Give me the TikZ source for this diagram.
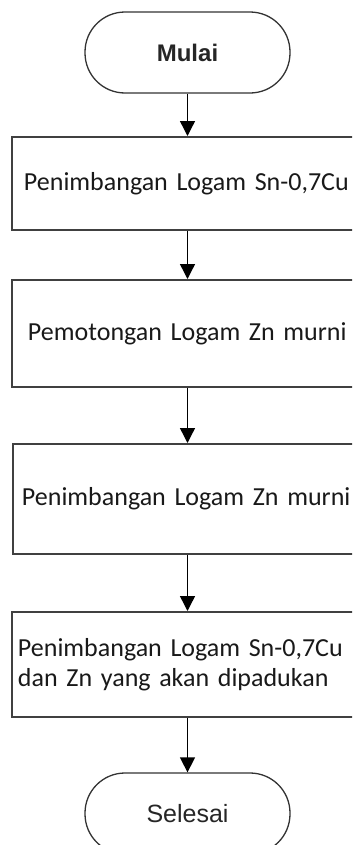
\documentclass[tikz,border=0pt]{standalone}
\usepackage{fontspec}
\setmainfont{Carlito}
\newfontfamily\arialfont{Liberation Sans}
\usetikzlibrary{arrows.meta}

\tikzset{
  terminal/.style={draw=black!80, line width=1.3bp, rounded corners=40bp,
    minimum width=205bp, minimum height=81bp, text=black!85,
    font=\arialfont\fontsize{24bp}{28bp}\selectfont},
  prosesbox/.style={draw=black!75, line width=2bp, minimum width=351bp,
    inner xsep=12bp, text width=327bp, align=left, text=black!90,
    font=\fontsize{26bp}{30bp}\selectfont},
  panah/.style={-{Triangle[length=15bp,width=15bp]}, line width=1.4bp}
}

\begin{document}
\begin{tikzpicture}[x=1bp, y=-1bp]
\useasboundingbox (0,0) rectangle (352,845);
\clip (0,0) rectangle (352,845);
%
\node[terminal, font=\arialfont\bfseries\fontsize{24bp}{28bp}\selectfont] (mulai) at (187.5,52.5) {Mulai};
%
\node[prosesbox, minimum height=93bp] (timbangSnCu) at (187.5,183.5) {Penimbangan Logam Sn-0,7Cu};
\node[prosesbox, minimum height=107bp, inner xsep=16bp, text width=319bp] (potongZn) at (187.5,333.5) {Pemotongan Logam Zn murni};
\node[prosesbox, minimum height=110bp, inner xsep=9bp, text width=333bp] (timbangZn) at (188.5,499) {\raisebox{-8bp}{Penimbangan Logam Zn murni}};
\node[prosesbox, minimum height=105bp, inner xsep=6bp, text width=339bp] (timbangPadu) at (187.5,664.5) {Penimbangan Logam Sn-0,7Cu\\dan Zn yang akan dipadukan};
%
\node[terminal, font=\arialfont\fontsize{25bp}{28bp}\selectfont] (selesai) at (187.5,813.5) {Selesai};
%
\draw[panah] (mulai) -- (timbangSnCu);
\draw[panah] (timbangSnCu) -- (potongZn);
\draw[panah] (potongZn.south) -- (potongZn.south |- timbangZn.north);
\draw[panah] (timbangZn.south -| potongZn.south) -- (timbangPadu.north);
\draw[panah] (timbangPadu) -- (selesai);
\end{tikzpicture}
\end{document}
